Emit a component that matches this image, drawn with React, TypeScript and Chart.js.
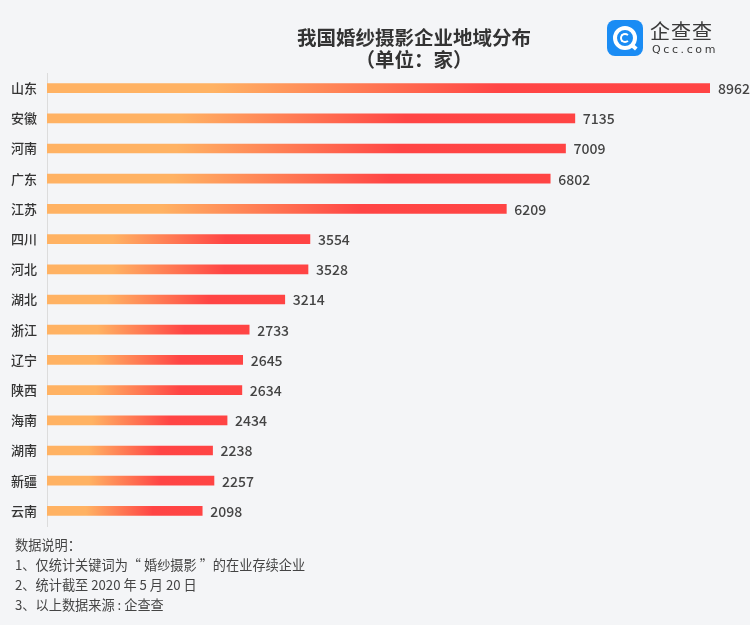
import React, { useEffect, useRef } from "react";
import { Chart, registerables } from "chart.js";

Chart.register(...registerables);

const provinces = ["山东", "安徽", "河南", "广东", "江苏", "四川", "河北", "湖北", "浙江", "辽宁", "陕西", "海南", "湖南", "新疆", "云南"];
const companyCounts = [8962, 7135, 7009, 6802, 6209, 3554, 3528, 3214, 2733, 2645, 2634, 2434, 2238, 2257, 2098];
const titleLines = ["我国婚纱摄影企业地域分布", "（单位：家）"];
const noteLines = [
  "数据说明：",
  "1、仅统计关键词为“ 婚纱摄影 ”的在业存续企业",
  "2、统计截至 2020 年 5 月 20 日",
  "3、以上数据来源 : 企查查",
];

const FONT = '"Noto Sans CJK SC", "Noto Sans", sans-serif';

const valueLabelPlugin = {
  id: "valueLabels",
  afterDatasetsDraw(chart: any) {
    const ctx = chart.ctx;
    const meta = chart.getDatasetMeta(0);
    ctx.save();
    ctx.font = `500 14px ${FONT}`;
    ctx.fillStyle = "#444";
    ctx.textAlign = "left";
    ctx.textBaseline = "middle";
    meta.data.forEach((el: any, i: number) => {
      ctx.fillText(String(chart.data.datasets[0].data[i]), el.x + 8, el.y + 0.5);
    });
    ctx.restore();
  },
};

export default function App() {
  const canvasRef = useRef<HTMLCanvasElement>(null);

  useEffect(() => {
    if (!canvasRef.current) return;
    const chart = new Chart(canvasRef.current, {
      type: "bar",
      data: {
        labels: provinces,
        datasets: [
          {
            data: companyCounts,
            barThickness: 9,
            borderWidth: 0,
            backgroundColor: (c: any) => {
              const ch = c.chart;
              if (!ch.chartArea || c.raw == null) return "#FF4444";
              const x0 = ch.scales.x.getPixelForValue(0);
              const x1 = ch.scales.x.getPixelForValue(c.raw);
              const g = ch.ctx.createLinearGradient(x0, 0, x1, 0);
              g.addColorStop(0, "#FFB263");
              g.addColorStop(0.25, "#FFB263");
              g.addColorStop(0.68, "#FF4545");
              g.addColorStop(1, "#FF4444");
              return g;
            },
          },
        ],
      },
      options: {
        indexAxis: "y",
        animation: false,
        responsive: false,
        maintainAspectRatio: false,
        layout: { padding: { top: 73, bottom: 99, left: 0, right: 40 } },
        plugins: { legend: { display: false }, tooltip: { enabled: false }, title: { display: false } },
        scales: {
          x: { display: false, min: 0, max: 8962 },
          y: {
            afterFit: (s: any) => {
              s.width = 47;
            },
            grid: { display: false, drawTicks: false },
            border: { display: true, color: "#dcdcdc", width: 1 },
            ticks: {
              padding: 10,
              color: "#333",
              font: { family: FONT, size: 13, weight: 500 as any },
            },
          },
        },
      },
      plugins: [valueLabelPlugin],
    });
    return () => chart.destroy();
  }, []);

  return (
    <div
      style={{
        position: "fixed",
        left: 0,
        top: 0,
        width: 750,
        height: 625,
        background: "#f4f5f7",
        fontFamily: FONT,
        overflow: "hidden",
      }}
    >
      <canvas ref={canvasRef} width={750} height={625} style={{ position: "absolute", left: 0, top: 0 }} />
      <div
        style={{
          position: "absolute",
          left: 214,
          width: 400,
          top: 26,
          textAlign: "center",
          color: "#333",
          fontWeight: 700,
          fontSize: 19.5,
          lineHeight: "22px",
        }}
      >
        <div>{titleLines[0]}</div>
        <div>{titleLines[1]}</div>
      </div>
      <div
        style={{
          position: "absolute",
          left: 607,
          top: 20,
          width: 36,
          height: 36,
          borderRadius: 8,
          background: "#1a8cf4",
        }}
      >
        <div
          style={{
            position: "absolute",
            left: 6,
            top: 6,
            width: 16,
            height: 16,
            borderRadius: "50%",
            border: "4px solid #fff",
          }}
        />
        <div
          style={{
            position: "absolute",
            left: 13,
            top: 13,
            width: 6,
            height: 6,
            borderRadius: "50%",
            border: "2.5px solid #fff",
            borderRightColor: "transparent",
          }}
        />
        <div
          style={{
            position: "absolute",
            left: 24,
            top: 25,
            width: 6,
            height: 4,
            background: "#fff",
            transform: "rotate(40deg)",
          }}
        />
      </div>
      <div
        style={{
          position: "absolute",
          left: 650,
          top: 18,
          fontSize: 20,
          lineHeight: "26px",
          color: "#3a3a3a",
          letterSpacing: 1,
        }}
      >
        企查查
      </div>
      <div
        style={{
          position: "absolute",
          left: 652,
          top: 43,
          fontSize: 11,
          lineHeight: "14px",
          color: "#3a3a3a",
          letterSpacing: 2.6,
          fontFamily: '"DejaVu Sans", sans-serif',
        }}
      >
        Qcc.com
      </div>
      <div
        style={{
          position: "absolute",
          left: 15,
          top: 535,
          fontSize: 13.2,
          lineHeight: "20px",
          color: "#444",
        }}
      >
        {noteLines.map((l, i) => (
          <div key={i}>{l}</div>
        ))}
      </div>
    </div>
  );
}
